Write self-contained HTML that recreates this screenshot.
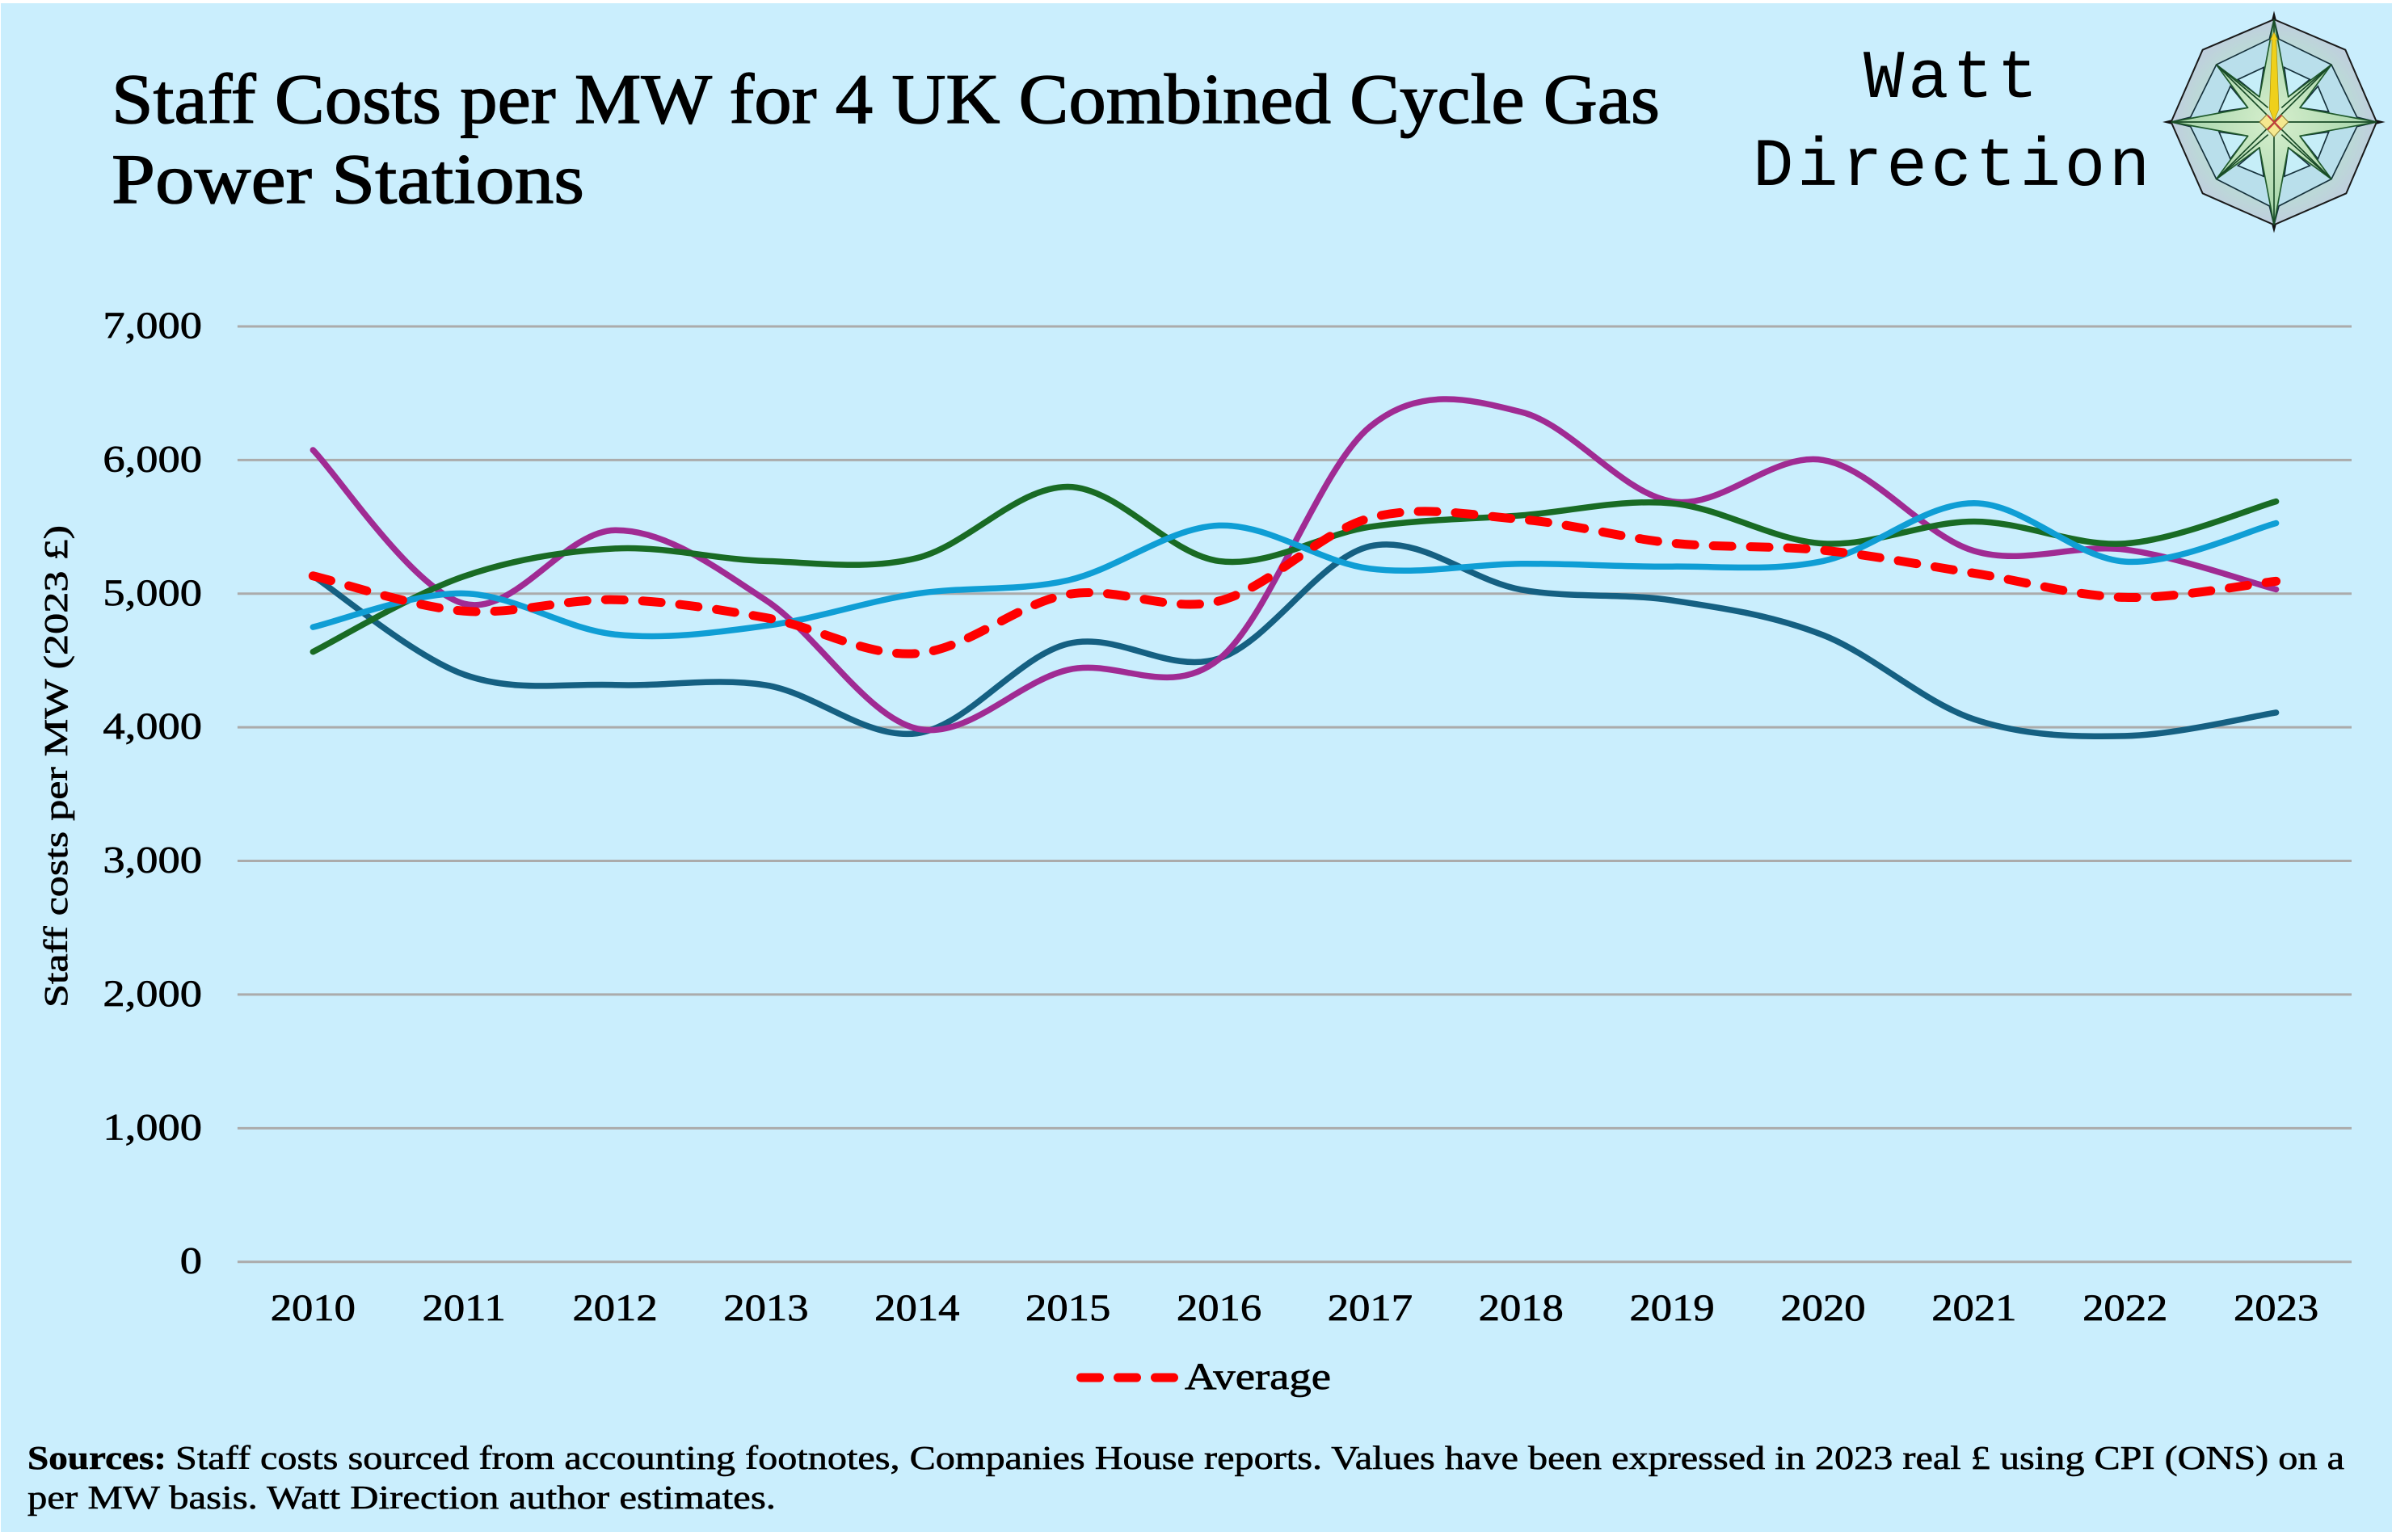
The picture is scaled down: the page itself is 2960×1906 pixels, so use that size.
<!DOCTYPE html>
<html lang="en">
<head>
<meta charset="utf-8">
<title>Staff Costs per MW for 4 UK Combined Cycle Gas Power Stations</title>
<style>
html,body{margin:0;padding:0;background:#fff;width:2960px;height:1906px;overflow:hidden}
svg{display:block}
text{font-family:"Liberation Serif",serif;fill:#000}
.tick{font-size:47px;stroke:#000;stroke-width:.7px}
.ttl{font-size:88px;stroke:#000;stroke-width:1.3px}
.src{font-size:41px;stroke:#000;stroke-width:.6px}
.brand{font-family:"Liberation Mono",monospace;font-size:84px;letter-spacing:4.7px}
</style>
</head>
<body>
<svg id="chart" width="2960" height="1906" viewBox="0 0 2960 1906" xmlns="http://www.w3.org/2000/svg">
  <rect x="1" y="4" width="2959" height="1892" fill="#CAEEFD"/>
  <g>
    <text class="ttl" x="138" y="152" textLength="1916" lengthAdjust="spacingAndGlyphs">Staff Costs per MW for 4 UK Combined Cycle Gas</text>
    <text class="ttl" x="138" y="251" textLength="585" lengthAdjust="spacingAndGlyphs">Power Stations</text>
  </g>
  <g>
    <text class="brand" x="2306" y="120">Watt</text>
    <text class="brand" x="2169" y="229">Direction</text>
  </g>
  <g transform="translate(2560 0) scale(.33333)">
    <defs>
      <radialGradient id="ringFill" cx="50%" cy="50%" r="55%">
        <stop offset="72%" stop-color="#bcd8d8"/><stop offset="100%" stop-color="#c2c8e2"/>
      </radialGradient>
      <radialGradient id="starFill" cx="50%" cy="50%" r="50%">
        <stop offset="0%" stop-color="#d6efcd"/><stop offset="100%" stop-color="#a3d2a8"/>
      </radialGradient>
    </defs>
    <polygon points="762,72 1027,185 1143,453 1030,718 762,835 497,718 380,453 497,185" fill="url(#ringFill)" stroke="#1a1a1a" stroke-width="6"/>
    <polygon points="762,72 780,145 975,240 1070,435 1143,453 1070,470 975,665 780,765 762,835 745,765 548,665 452,470 380,453 452,435 548,240 745,145" fill="#b9dfeb" stroke="#16323c" stroke-width="5"/>
    <g fill="#c6eef8" stroke="#16323c" stroke-width="5">
      <polygon points="800,250 895,295 815,360"/><polygon points="925,320 965,415 858,400"/>
      <polygon points="925,590 965,490 858,505"/><polygon points="800,655 895,615 815,548"/>
      <polygon points="724,655 628,615 708,548"/><polygon points="600,590 558,490 665,505"/>
      <polygon points="600,320 558,415 665,400"/><polygon points="724,250 628,295 708,360"/>
    </g>
    <polygon points="762,72 815,360 975,240 858,400 1143,453 858,505 975,665 815,548 762,835 708,548 548,665 665,505 380,453 665,400 548,240 708,360" fill="url(#starFill)" stroke="#1f5a2c" stroke-width="5" stroke-linejoin="round"/>
    <g stroke="#174a26" stroke-width="5">
      <line x1="762" y1="72" x2="762" y2="835"/><line x1="380" y1="453" x2="1143" y2="453"/>
      <line x1="548" y1="240" x2="975" y2="665"/><line x1="975" y1="240" x2="548" y2="665"/>
      <line x1="548" y1="240" x2="740" y2="400"/><line x1="975" y1="240" x2="790" y2="400"/>
      <line x1="548" y1="665" x2="740" y2="500"/><line x1="975" y1="665" x2="790" y2="500"/>
    </g>
    <g fill="#111">
      <polygon points="762,40 754,72 770,72"/><polygon points="762,865 754,835 770,835"/>
      <polygon points="348,453 380,445 380,461"/><polygon points="1175,453 1143,445 1143,461"/>
    </g>
    <polygon points="762,120 776,148 770,148 780,405 762,450 745,405 755,148 748,148" fill="#efd01b" stroke="#a58d10" stroke-width="2"/>
    <g fill="#f5e88f" stroke="#8a7a30" stroke-width="3">
      <polygon points="708,453 735,426 762,453 735,480"/><polygon points="762,453 789,426 815,453 789,480"/><polygon points="762,456 785,482 762,508 738,482"/>
    </g>
    <g stroke="#c23b3b" stroke-width="6">
      <line x1="738" y1="428" x2="790" y2="482"/><line x1="790" y1="428" x2="738" y2="482"/>
    </g>
  </g>
  <g id="grid"></g>
  <g id="yLabels"></g>
  <g id="xLabels"></g>
  <text class="tick" style="font-size:41px" transform="translate(83 1247) rotate(-90)" textLength="597" lengthAdjust="spacingAndGlyphs">Staff costs per MW (2023 £)</text>
  <g id="lines"></g>
  <g>
    <line x1="1337.5" y1="1705" x2="1452.5" y2="1705" stroke="#FF0000" stroke-width="11" stroke-linecap="round" stroke-dasharray="23 23"/>
    <text class="tick" x="1466" y="1719" textLength="181" lengthAdjust="spacingAndGlyphs">Average</text>
  </g>
  <g>
    <text class="src" x="34" y="1818" font-weight="bold" textLength="172" lengthAdjust="spacingAndGlyphs">Sources:</text>
    <text class="src" x="217" y="1818" textLength="2684" lengthAdjust="spacingAndGlyphs">Staff costs sourced from accounting footnotes, Companies House reports. Values have been expressed in 2023 real £ using CPI (ONS) on a</text>
    <text class="src" x="34" y="1867" textLength="926" lengthAdjust="spacingAndGlyphs">per MW basis. Watt Direction author estimates.</text>
  </g>
</svg>
<script>
const years = [2010,2011,2012,2013,2014,2015,2016,2017,2018,2019,2020,2021,2022,2023];
const yTicks = [0,1000,2000,3000,4000,5000,6000,7000];
const yTickLabels = ['0','1,000','2,000','3,000','4,000','5,000','6,000','7,000'];
const stationTeal = [5133,4395,4317,4315,3955,4625,4515,5355,5030,4950,4690,4060,3935,4110];
const stationPurple = [6075,4925,5475,4950,3990,4430,4510,6250,6360,5690,6000,5320,5330,5032];
const stationGreen = [4565,5130,5338,5244,5267,5800,5244,5500,5586,5676,5375,5540,5375,5690];
const stationBlue = [4750,5002,4695,4760,5000,5100,5510,5187,5224,5203,5244,5677,5240,5528];
const averageCost = [5133,4870,4955,4820,4553,4995,4945,5566,5556,5379,5325,5153,4972,5093];

const NS = 'http://www.w3.org/2000/svg';
const plotLeft = 293.9, plotRight = 2910, plotTop = 404, plotBottom = 1561.7, yMax = 7000;
const labelStretch = 1.12;
function xPos(i){ return plotLeft + (i + 0.5) * (plotRight - plotLeft) / years.length; }
function yPos(v){ return plotBottom - v / yMax * (plotBottom - plotTop); }
function smoothPath(vals){
  const p = vals.map((v,i) => [xPos(i), yPos(v)]);
  let d = 'M' + p[0][0].toFixed(2) + ' ' + p[0][1].toFixed(2);
  for (let i = 0; i < p.length - 1; i++) {
    const a = p[Math.max(i-1,0)], b = p[i], c = p[i+1], e = p[Math.min(i+2,p.length-1)];
    const c1x = b[0] + (c[0]-a[0])/6, c1y = b[1] + (c[1]-a[1])/6;
    const c2x = c[0] - (e[0]-b[0])/6, c2y = c[1] - (e[1]-b[1])/6;
    d += 'C' + c1x.toFixed(2) + ' ' + c1y.toFixed(2) + ' ' + c2x.toFixed(2) + ' ' + c2y.toFixed(2) + ' ' + c[0].toFixed(2) + ' ' + c[1].toFixed(2);
  }
  return d;
}
const grid = document.getElementById('grid');
const yLabels = document.getElementById('yLabels');
const xLabels = document.getElementById('xLabels');
const linesGroup = document.getElementById('lines');

yTicks.forEach(function(v,i){
  const l = document.createElementNS(NS,'line');
  
  
  l.setAttribute('x1', plotLeft);
  l.setAttribute('x2', plotRight);
  l.setAttribute('y1', yPos(v));
  l.setAttribute('y2', yPos(v));
  l.setAttribute('stroke', '#ababab');
  l.setAttribute('stroke-width', '3');
  grid.appendChild(l);
  const t = document.createElementNS(NS,'text');
  
  
  t.setAttribute('class', 'tick');
  t.setAttribute('text-anchor', 'end');
  t.setAttribute('transform', 'translate(250 ' + (yPos(v) + 14) + ') scale(' + (labelStretch + 0.04) + ' 1)');
  t.textContent = yTickLabels[i];
  yLabels.appendChild(t);
});
years.forEach(function(yr,i){
  const t = document.createElementNS(NS,'text');
  
  
  t.setAttribute('class', 'tick');
  t.setAttribute('text-anchor', 'middle');
  t.setAttribute('transform', 'translate(' + xPos(i) + ' 1634) scale(' + labelStretch + ' 1)');
  t.textContent = String(yr);
  xLabels.appendChild(t);
});
function addSeries(vals, color, width, name, dash){
  const p = document.createElementNS(NS,'path');
  
  
  p.setAttribute('d', smoothPath(vals));
  p.setAttribute('fill', 'none');
  p.setAttribute('stroke', color);
  p.setAttribute('stroke-width', width);
  p.setAttribute('stroke-linecap', 'round');
  p.setAttribute('stroke-linejoin', 'round');
  if (dash) p.setAttribute('stroke-dasharray', dash);
  linesGroup.appendChild(p);
}
addSeries(stationTeal, '#156082', 7.5, 'line-station-teal');
addSeries(stationPurple, '#A02B93', 7.5, 'line-station-purple');
addSeries(stationGreen, '#196B24', 7.5, 'line-station-green');
addSeries(stationBlue, '#0F9ED5', 7.5, 'line-station-blue');
addSeries(averageCost, '#FF0000', 11, 'line-average', '23 23');
</script>
</body>
</html>
